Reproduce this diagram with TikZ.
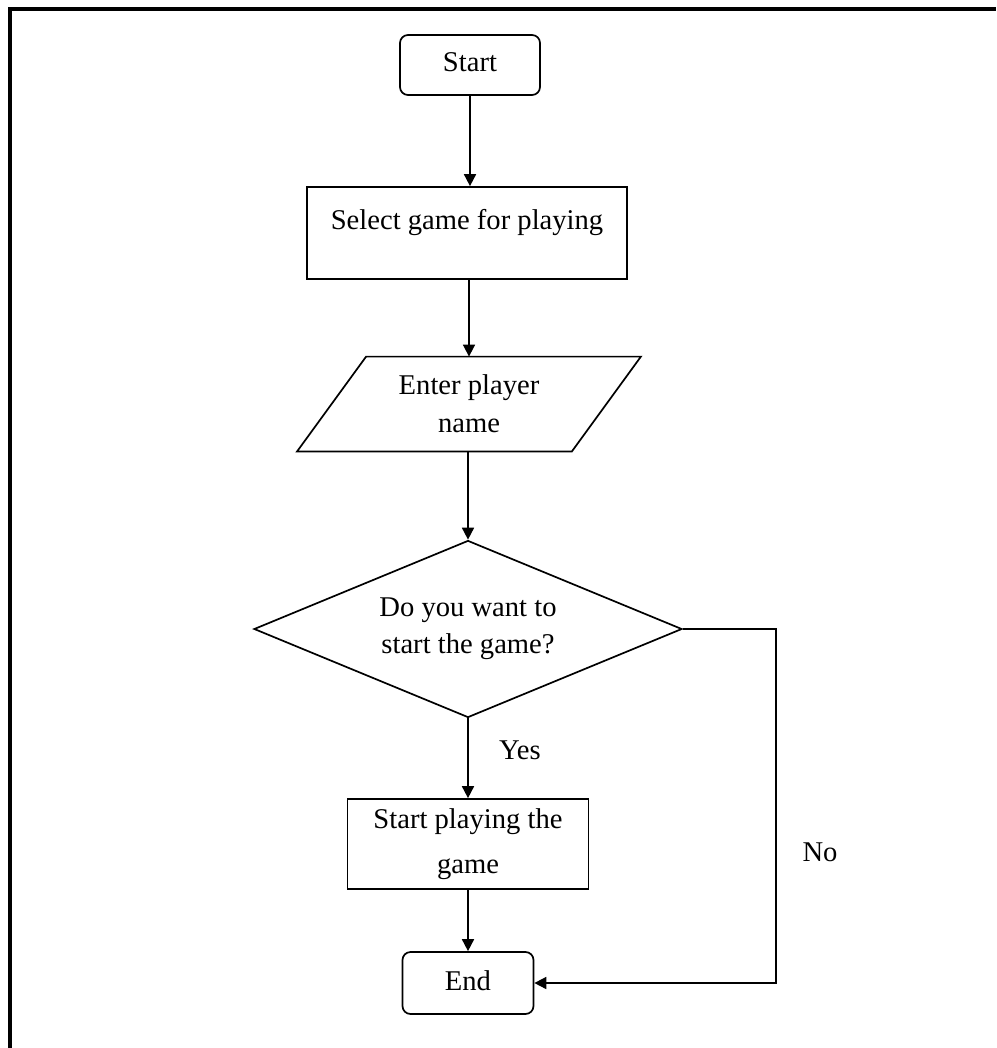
\documentclass[tikz,border=0pt]{standalone}
\usepackage{fontspec}
\setmainfont{Liberation Serif}
\usetikzlibrary{arrows.meta,shapes.geometric,calc}

\begin{document}
\begin{tikzpicture}[x=0.5pt,y=-0.5pt,
  every node/.style={font=\fontsize{14.3pt}{18.5pt}\selectfont, text=black},
  outline/.style={draw=black, line width=0.85pt},
  terminal/.style={outline, rounded corners=4pt, inner sep=0pt, text depth=0.25em},
  process/.style={outline, inner sep=0pt, align=center},
  iobox/.style={inner sep=0pt, align=center, minimum width=171.5pt, minimum height=47pt},
  decision/.style={outline, diamond, shape aspect=2.418, inner sep=0pt, align=center,
                   minimum width=214pt, minimum height=88.5pt},
  flow/.style={line width=0.85pt, -{Triangle[length=6pt,width=6pt]}},
  frameline/.style={line width=1.6pt}
]
  % page area
  \useasboundingbox (0,0) rectangle (996,1048);

  % outer frame (top and left edges)
  \draw[frameline] (10,1048) -- (10,9) -- (996,9);

  % flowchart steps
  \node[terminal, minimum width=70pt, minimum height=30pt] (start) at (470,65) {Start};
  \node[process, minimum width=160pt, minimum height=46pt, text height=21pt, text depth=25pt]
       (select) at (467,233) {Select game for playing};
  \node[iobox] (input) at (469,404) {Enter player\\[0.5pt] name};
  \draw[outline] ($(input.north west)+(69,0)$) -- (input.north east)
                 -- ($(input.south east)+(-69,0)$) -- (input.south west) -- cycle;
  \node[decision] (ask) at (468,629) {Do you want to\\ start the game?};
  \node[process, minimum width=120.5pt, minimum height=45pt] (play) at (468,844)
       {Start playing the\\[4pt] game};
  \node[terminal, minimum width=65.5pt, minimum height=31pt] (finish) at (468,983) {End};

  % connectors
  \draw[flow] (start.south) -- (start.south |- select.north);
  \draw[flow] (select.south -| input.north) -- (input.north);
  \draw[flow] (input.south) -- (input.south -| ask.north) -- (ask.north);
  \draw[flow] (ask.south) -- (ask.south |- play.north);
  \draw[flow] (play.south) -- (play.south |- finish.north);
  \coordinate (nobend) at (776,629);
  \draw[flow] (ask.east) -- (nobend) |- (finish.east);

  % branch labels
  \node (yes) at (520,750) {Yes};
  \node (no) at (820,852) {No};
\end{tikzpicture}
\end{document}
